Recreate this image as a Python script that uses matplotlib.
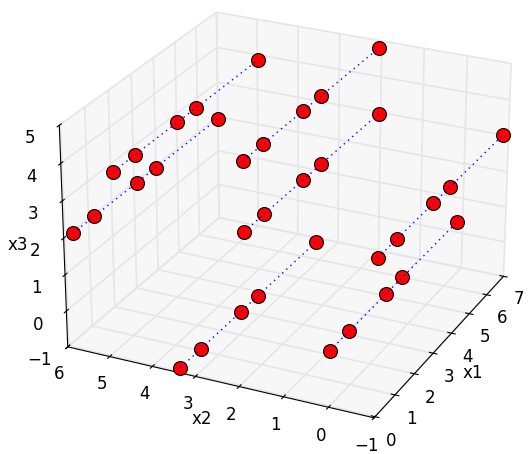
import numpy as np
import matplotlib
matplotlib.use('Agg')
import matplotlib.pyplot as plt
from mpl_toolkits.mplot3d import Axes3D

x1_vals = [0.15, 1.08, 2.95, 3.82, 6.82]
x2_lines = [5.9, 4.9, 1.97, 1.98, 3.45, 0.07, -0.94]
x3_lines = [2.05, 3.94, 3.05, 4.89, -1.0, 0.39, 3.1]

fig = plt.figure(figsize=(5.29, 4.54), dpi=100)
ax = fig.add_axes([-0.013, -0.035, 1.1, 1.14], projection='3d')
ax.computed_zorder = False
ax.set_box_aspect((1, 1, 0.72), zoom=0.99)

for x2, x3 in zip(x2_lines, x3_lines):
    xs = np.array(x1_vals)
    ax.scatter(xs, [x2] * len(xs), [x3] * len(xs), s=100, c='red', edgecolors='black',
               linewidths=0.8, depthshade=False, zorder=3)
    ax.plot(xs, [x2] * len(xs), [x3] * len(xs), color='blue', lw=1, linestyle=(0, (1, 3)), zorder=4)

ax.set_xlim(-0.05, 6.9)
ax.set_ylim(-1.0, 5.9)
ax.set_zlim(-1.0, 5.0)
ax.set_xticks(range(0, 8))
ax.set_yticks(range(-1, 7))
ax.set_zticks(range(-1, 6))
ax.set_xlabel('x1', fontsize=12, labelpad=-1)
ax.set_ylabel('x2', fontsize=12, labelpad=-1)
ax.set_zlabel('x3', fontsize=12, labelpad=-2)
ax.tick_params(labelsize=12, pad=2)
ax.tick_params(axis='z', pad=4)
ax.view_init(elev=25, azim=-154.5)

for axis in (ax.xaxis, ax.yaxis, ax.zaxis):
    axis.set_pane_color((0.95, 0.95, 0.95, 0.6))
    axis.pane.set_edgecolor((0.95, 0.95, 0.95, 0.3))
    axis._axinfo['grid']['color'] = (0.9, 0.9, 0.9, 1)
    axis._axinfo['grid']['linewidth'] = 1.2
    axis._axinfo['axisline']['color'] = (0, 0, 0, 1)
    axis._axinfo['tick']['inward_factor'] = 0.15
    axis._axinfo['tick']['outward_factor'] = 0.15
    axis.line.set_color('black')

fig.savefig('out.png', dpi=100)
